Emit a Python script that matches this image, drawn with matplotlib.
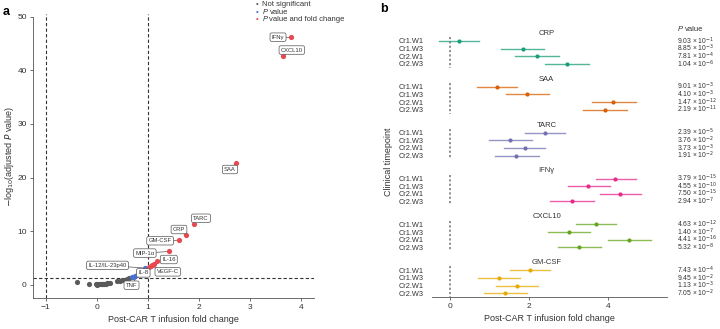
import numpy as np
import matplotlib
matplotlib.use('Agg')
import matplotlib.pyplot as plt

plt.rcParams['font.family'] = ['Liberation Sans', 'DejaVu Sans']
plt.rcParams['mathtext.fontset'] = 'dejavusans'

# ---- panel a : volcano data ----
ns_fc = [-0.38, -0.15, -0.02, 0.0, 0.02, 0.05, 0.08, 0.1, 0.12, 0.15, 0.18, 0.2, 0.22,
         0.25, 0.4, 0.45, 0.5, 0.55, 0.6, 0.63]
ns_p = [0.55, 0.05, 0.05, 0.0, 0.1, 0.05, 0.1, 0.15, 0.1, 0.2, 0.15, 0.25, 0.3,
        0.3, 0.6, 0.7, 0.8, 0.9, 1.05, 1.2]
pv_fc = [0.68, 0.71, 0.74, 0.78, 0.83, 0.95]
pv_p = [1.35, 1.45, 1.6, 1.8, 2.1, 3.1]
fc_fc = [1.03, 1.06, 1.09, 1.12, 1.17, 1.42, 1.61, 1.74, 1.90, 2.73, 3.65, 3.80]
fc_p = [3.3, 3.5, 3.7, 3.9, 4.5, 6.2, 8.3, 9.2, 11.3, 22.8, 42.7, 46.2]

lab_names = ['IFNγ', 'CXCL10', 'SAA', 'TARC', 'CRP', 'GM-CSF', 'MIP-1α', 'IL-16',
             'IL-12/IL-23p40', 'VEGF-C', 'IL-8', 'TNF']
lab_x = [3.55, 3.82, 2.61, 2.04, 1.61, 1.24, 0.94, 1.41, 0.21, 1.39, 0.91, 0.68]
lab_y = [46.2, 43.8, 21.5, 12.4, 10.3, 8.2, 5.9, 4.7, 3.6, 2.4, 2.2, -0.1]
lab_px = [3.80, 3.65, 2.73, 1.90, 1.74, 1.61, 1.42, 1.17, 0.95, 1.06, 0.78, 0.83]
lab_py = [46.2, 42.7, 22.8, 11.3, 9.2, 8.3, 6.2, 4.5, 3.1, 3.5, 1.8, 2.1]

# ---- panel b : forest data ----
groups = ['CRP', 'SAA', 'TARC', 'IFNγ', 'CXCL10', 'GM-CSF']
timepoints = ['Cr1.W1', 'Cr1.W3', 'Cr2.W1', 'Cr2.W3']
group_colors = ['#1b9e77', '#d95f02', '#7570b3', '#e7298a', '#66a61e', '#e6ab02']
est = [[0.24, 1.84, 2.20, 2.96],
       [1.20, 1.96, 4.14, 3.92],
       [2.40, 1.53, 1.89, 1.68],
       [4.19, 3.50, 4.31, 3.09],
       [3.70, 3.02, 4.54, 3.27],
       [2.03, 1.24, 1.70, 1.40]]
lo = [[-0.27, 1.29, 1.65, 2.41],
      [0.69, 1.41, 3.60, 3.38],
      [1.90, 0.98, 1.38, 1.13],
      [3.70, 3.00, 3.80, 2.53],
      [3.19, 2.49, 4.01, 2.73],
      [1.52, 0.70, 1.18, 0.86]]
hi = [[0.74, 2.39, 2.76, 3.52],
      [1.70, 2.52, 4.71, 4.48],
      [2.91, 2.09, 2.42, 2.25],
      [4.70, 4.05, 4.85, 3.65],
      [4.20, 3.56, 5.09, 3.82],
      [2.53, 1.77, 2.24, 1.94]]
pvals = [['9.03', '-1'], ['8.85', '-3'], ['7.81', '-4'], ['1.04', '-6'],
         ['9.01', '-3'], ['4.10', '-3'], ['1.47', '-12'], ['2.19', '-11'],
         ['2.39', '-5'], ['3.76', '-2'], ['3.73', '-3'], ['1.91', '-2'],
         ['3.79', '-15'], ['4.55', '-10'], ['7.50', '-15'], ['2.94', '-7'],
         ['4.63', '-12'], ['1.40', '-7'], ['4.41', '-16'], ['5.32', '-8'],
         ['7.43', '-4'], ['9.45', '-2'], ['1.13', '-3'], ['7.05', '-2']]

txt_col = '#333333'
fig = plt.figure(figsize=(7.2, 3.29), dpi=100)

# panel a
ax = fig.add_axes([0.0458, 0.094, 0.390, 0.863])
ax.axvline(-1, color=txt_col, ls=(0, (3, 2)), lw=0.8, zorder=1)
ax.axvline(1, color=txt_col, ls=(0, (3, 2)), lw=0.8, zorder=1)
ax.axhline(-np.log10(0.05), color=txt_col, ls=(0, (3, 2)), lw=0.8, zorder=1)
ax.scatter(ns_fc, ns_p, s=14, color='#5a5a5a', lw=0, zorder=3)
ax.scatter(pv_fc, pv_p, s=14, color='#4a6fd0', lw=0, zorder=3)
ax.scatter(fc_fc, fc_p, s=14, color='#e8474f', lw=0, zorder=3)
for name, tx, ty, px, py in zip(lab_names, lab_x, lab_y, lab_px, lab_py):
    ax.plot([tx, px], [ty, py], color='#555555', lw=0.5, zorder=2)
    ax.text(tx, ty, name, fontsize=4.2, ha='center', va='center', zorder=4, color=txt_col,
            bbox=dict(boxstyle='round,pad=0.3', fc='white', ec='#555555', lw=0.5))
ax.set_xlim(-1.25, 4.25)
ax.set_ylim(-2.5, 50.5)
ax.set_xticks([-1, 0, 1, 2, 3, 4])
ax.set_yticks([0, 10, 20, 30, 40, 50])
ax.spines['top'].set_visible(False)
ax.spines['right'].set_visible(False)
ax.spines['left'].set_bounds(-2.5, 50)
for s in ['left', 'bottom']:
    ax.spines[s].set_color('#555555')
    ax.spines[s].set_linewidth(0.6)
ax.tick_params(labelsize=6, length=2.5, width=0.6, color='#555555', labelcolor=txt_col, pad=2)
ax.set_xlabel('Post-CAR T infusion fold change', fontsize=6.5, color=txt_col, labelpad=3)
ax.set_ylabel(r'$-$log$_{10}$(adjusted $P$ value)', fontsize=6.5, color=txt_col, labelpad=1)

# legend in top right of panel a
leg_text = ['Not significant', 'P value', 'P value and fold change']
for i, (lbl, col) in enumerate(zip(leg_text, ['#5a5a5a', '#4a6fd0', '#e8474f'])):
    yy = 0.987 - i * 0.0235
    fig.text(0.3575, yy, '•', color=col, fontsize=5.5, ha='center', va='center')
    if lbl.startswith('P '):
        # italic P followed by the rest of the label
        fig.text(0.3645, yy, 'P', fontsize=5.5, color=txt_col, ha='left', va='center',
                 style='italic')
        fig.text(0.3645 + 0.0098, yy, lbl[2:], fontsize=5.5, color=txt_col, ha='left', va='center')
    else:
        fig.text(0.3645, yy, lbl, fontsize=5.5, color=txt_col, ha='left', va='center')

fig.text(0.003, 0.965, 'a', fontsize=9, fontweight='bold', va='center')

# panel b
bx = fig.add_axes([0.5996, 0.0973, 0.3264, 0.8247])
ytick_pos = []
ytick_lab = []
for g, name in enumerate(groups):
    base = -g * 6
    bx.text(2.45, base, name, fontsize=5.5, ha='center', va='center', color=txt_col)
    bx.plot([0, 0], [base - 0.5, base - 4.5], color='#888888', ls=(0, (1.2, 1.2)), lw=1.3, zorder=1)
    for r in range(4):
        yy = base - 1 - r
        bx.plot([lo[g][r], hi[g][r]], [yy, yy], color=group_colors[g], lw=1.0, alpha=0.75, zorder=2)
        bx.scatter([est[g][r]], [yy], s=9, color=group_colors[g], zorder=3, lw=0)
        ytick_pos.append(yy)
        ytick_lab.append(timepoints[r])
        m, e = pvals[g * 4 + r]
        bx.text(1.045, yy, m + ' × 10$^{' + e.replace('-', '−') + '}$',
                transform=bx.get_yaxis_transform(), fontsize=4.9, color=txt_col,
                ha='left', va='center')
bx.text(1.045, 0.5, 'P', transform=bx.get_yaxis_transform(), fontsize=5.5,
        color=txt_col, ha='left', va='center', style='italic')
bx.text(1.045 + 0.031, 0.5, 'value', transform=bx.get_yaxis_transform(), fontsize=5.5,
        color=txt_col, ha='left', va='center')
bx.set_xlim(-0.46, 5.49)
bx.set_ylim(-34.5, 1)
bx.set_xticks([0, 2, 4])
bx.set_yticks(ytick_pos)
bx.set_yticklabels(ytick_lab)
for s in ['top', 'right', 'left']:
    bx.spines[s].set_visible(False)
bx.spines['bottom'].set_color('#555555')
bx.spines['bottom'].set_linewidth(0.6)
bx.tick_params(axis='x', labelsize=6, length=2.5, width=0.6, color='#555555', labelcolor=txt_col, pad=2)
bx.tick_params(axis='y', labelsize=5.3, length=0, pad=6, labelcolor=txt_col)
bx.set_xlabel('Post-CAR T infusion fold change', fontsize=6.5, color=txt_col, labelpad=3)
bx.set_ylabel('Clinical timepoint', fontsize=6.5, color=txt_col, labelpad=4)

fig.text(0.528, 0.972, 'b', fontsize=9, fontweight='bold', va='center')

fig.savefig('out.png', dpi=100)
